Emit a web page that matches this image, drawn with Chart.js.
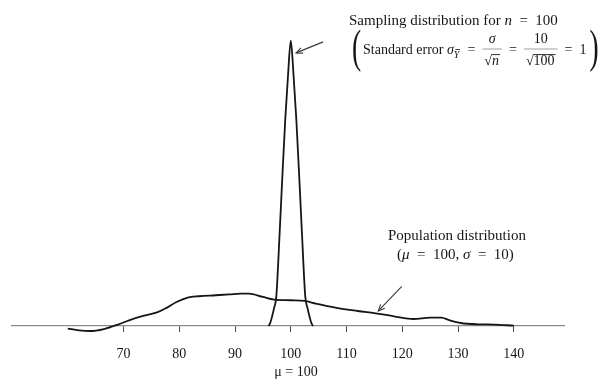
<!DOCTYPE html>
<html><head><meta charset="utf-8">
<script src="https://cdn.jsdelivr.net/npm/chart.js@4/dist/chart.umd.min.js"></script>
<style>html,body{margin:0;padding:0;background:#fff;}#wrap{width:605px;height:381px;}</style>
</head><body><div id="wrap"><canvas id="c" width="605" height="381"></canvas></div>
<script>
// ---- data ----
const X_TICKS = [70, 80, 90, 100, 110, 120, 130, 140];
const MU_TICK = 100;
const MU_LABEL = 'μ = 100';
// population distribution (mu = 100, sigma = 10), density units
const popX = [60, 62, 64, 66.5, 69, 71, 73.5, 76, 77.5, 79.5, 81.5, 83.5, 86.5, 89, 91, 92.5, 95, 97, 100, 102.5, 104.5, 108, 112, 115.5, 118.5, 122, 125, 127, 128.5, 130.5, 133.5, 136.5, 140];
const popY = [-0.0036, -0.006, -0.007, -0.0042, 0.002, 0.008, 0.014, 0.019, 0.0244, 0.0336, 0.0398, 0.0416, 0.043, 0.0442, 0.0454, 0.0454, 0.0406, 0.037, 0.036, 0.035, 0.0314, 0.0258, 0.021, 0.0174, 0.0136, 0.0098, 0.0118, 0.0118, 0.008, 0.0042, 0.0024, 0.002, 0.0005];
// sampling distribution for n = 100 (standard error 1)
const sampX = [96.0, 96.3, 96.6, 97.0, 97.4, 98.0, 98.4, 99.0, 99.5, 100, 100.5, 101, 101.6, 102, 102.6, 103, 103.4, 103.7, 104];
const sampY = [0, 0.004, 0.012, 0.025, 0.041, 0.13, 0.195, 0.288, 0.35, 0.399, 0.35, 0.288, 0.195, 0.13, 0.041, 0.025, 0.012, 0.004, 0];

const SERIF = '"Liberation Serif", "DejaVu Serif", serif';
const INK = '#161616';
const SP = '\u2002';

const annot = {
  id: 'annot',
  afterDraw(chart) {
    const ctx = chart.ctx, xs = chart.scales.x, ys = chart.scales.y;
    const F = '15px ' + SERIF, FI = 'italic 15px ' + SERIF;
    const G = '14px ' + SERIF, GI = 'italic 14px ' + SERIF;
    ctx.save();
    ctx.fillStyle = INK; ctx.strokeStyle = INK;
    ctx.textBaseline = 'alphabetic'; ctx.textAlign = 'left';
    const run = (x, y, parts) => { for (const [t, f] of parts) { ctx.font = f; ctx.fillText(t, x, y); x += ctx.measureText(t).width; } return x; };
    const w = (t, f) => { ctx.font = f; return ctx.measureText(t).width; };
    const pw = (parts) => parts.reduce((a, [t, f]) => a + w(t, f), 0);
    const bigParen = (ch, x, top, bottom) => {
      ctx.font = '50px ' + SERIF;
      const m = ctx.measureText(ch);
      const h = m.actualBoundingBoxAscent + m.actualBoundingBoxDescent;
      const s = (bottom - top) / h;
      ctx.save();
      ctx.translate(x, bottom);
      ctx.scale(0.6 * s, s);
      ctx.fillText(ch, 0, -m.actualBoundingBoxDescent);
      ctx.restore();
    };
    const sqrtText = (x, y, parts) => {
      ctx.font = G;
      const m = ctx.measureText('√');
      ctx.fillText('√', x, y);
      const topY = y - m.actualBoundingBoxAscent + 0.6;
      const x2 = x + m.width;
      const ww = pw(parts);
      run(x2, y, parts);
      ctx.lineWidth = 0.9;
      ctx.beginPath(); ctx.moveTo(x2 - 0.5, topY); ctx.lineTo(x2 + ww + 1, topY); ctx.stroke();
    };
    const frac = (x, numParts, denParts) => {
      const nw = pw(numParts);
      const dw = w('√', G) + pw(denParts) + 1;
      const W = Math.max(nw, dw) + 4;
      const cx = x + W / 2;
      run(cx - nw / 2, 43, numParts);
      sqrtText(cx - dw / 2, 65, denParts);
      ctx.strokeStyle = '#888'; ctx.lineWidth = 0.8;
      ctx.beginPath(); ctx.moveTo(x, 49); ctx.lineTo(x + W, 49); ctx.stroke();
      ctx.strokeStyle = INK;
      return x + W;
    };

    // ---- sampling distribution label ----
    run(349, 25, [['Sampling distribution for ', F], ['n', FI], [SP + '=' + SP + '100', F]]);
    bigParen('(', 352, 29, 72);
    let x = run(363, 54, [['Standard error ', G], ['σ', GI]]);
    ctx.font = 'italic 10px ' + SERIF;
    ctx.fillText('Y', x, 57.5);
    const yw = ctx.measureText('Y').width;
    ctx.lineWidth = 0.8; ctx.beginPath(); ctx.moveTo(x + 1.5, 49.5); ctx.lineTo(x + yw + 0.5, 49.5); ctx.stroke();
    x += yw + 1;
    x = run(x, 54, [[SP + '=' + SP, G]]);
    x = frac(x, [['σ', GI]], [['n', GI]]);
    x = run(x, 54, [[SP + '=' + SP, G]]);
    x = frac(x, [['10', G]], [['100', G]]);
    x = run(x, 54, [[SP + '=' + SP + '1', G]]);
    bigParen(')', x + 3, 29, 72);

    // ---- population label ----
    run(388, 239.5, [['Population distribution', F]]);
    run(397, 258.5, [['(', F], ['μ', FI], [SP + '=' + SP + '100, ', F], ['σ', FI], [SP + '=' + SP + '10)', F]]);

    // ---- arrows (heads anchored to data coordinates) ----
    const arrow = (hx, hy, dx, dy) => {
      ctx.strokeStyle = '#3a3a3a'; ctx.lineWidth = 1.1;
      ctx.beginPath(); ctx.moveTo(hx + dx, hy + dy); ctx.lineTo(hx, hy); ctx.stroke();
      const a = Math.atan2(dy, dx), L = 7, o = 0.42;
      ctx.beginPath();
      ctx.moveTo(hx + L * Math.cos(a - o), hy + L * Math.sin(a - o));
      ctx.lineTo(hx, hy);
      ctx.lineTo(hx + L * Math.cos(a + o), hy + L * Math.sin(a + o));
      ctx.stroke();
    };
    arrow(xs.getPixelForValue(100.95), ys.getPixelForValue(0.382), 27, -11);
    arrow(xs.getPixelForValue(115.7), ys.getPixelForValue(0.021), 23.5, -24.5);
    ctx.restore();
  }
};

const toPts = (xa, ya) => xa.map((v, i) => ({ x: v, y: ya[i] }));

new Chart(document.getElementById('c'), {
  type: 'line',
  data: {
    datasets: [
      { label: 'Population distribution', data: toPts(popX, popY), borderColor: INK, borderWidth: 1.8, pointRadius: 0, fill: false, cubicInterpolationMode: 'monotone', clip: false },
      { label: 'Sampling distribution', data: toPts(sampX, sampY), borderColor: INK, borderWidth: 1.8, pointRadius: 0, fill: false, cubicInterpolationMode: 'monotone', clip: false }
    ]
  },
  options: {
    responsive: false,
    animation: false,
    events: [],
    layout: { padding: { left: 12, right: 41, top: 40, bottom: 0 } },
    plugins: { legend: { display: false }, tooltip: { enabled: false } },
    scales: {
      x: {
        type: 'linear', min: 50, max: 149,
        afterBuildTicks: (s) => { s.ticks = X_TICKS.map(v => ({ value: v })); },
        afterFit: (s) => { s.height = 55; },
        grid: { display: true, drawOnChartArea: false, drawTicks: true, tickLength: 6, color: '#4a4a4a', lineWidth: 1 },
        border: { display: true, color: '#8c8c8c', width: 1.2 },
        ticks: {
          autoSkip: false, maxRotation: 0, padding: 13.4, color: INK,
          font: { family: SERIF, size: 14, lineHeight: 1.3 },
          callback: (v) => v === MU_TICK ? [String(v), '   ' + MU_LABEL] : String(v)
        }
      },
      y: { display: false, min: 0, max: 0.4 }
    }
  },
  plugins: [annot]
});
</script></body></html>
